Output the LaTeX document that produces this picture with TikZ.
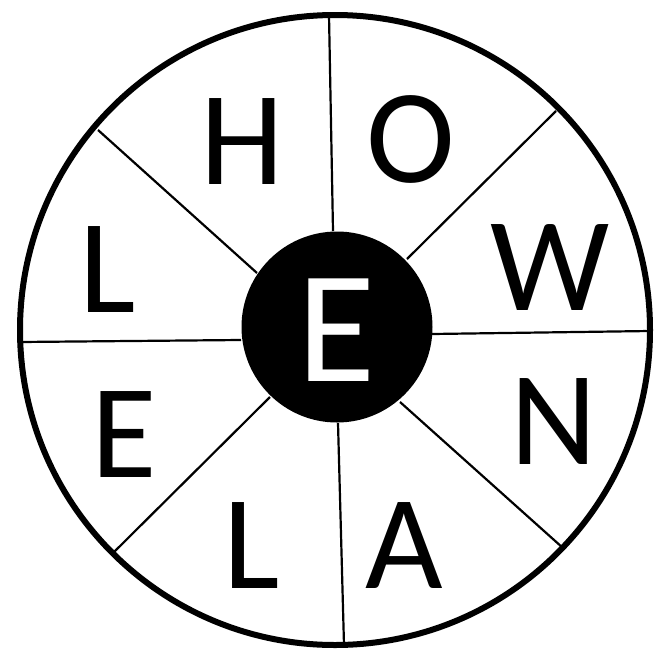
\documentclass[tikz,border=0pt]{standalone}
\usepackage{fontspec}
\setmainfont{Carlito}
\begin{document}
\begin{tikzpicture}[x=1pt,y=-1pt,
  spoke/.style={line width=2.2pt},
  letter/.style={inner sep=0pt,anchor=base,font=\fontsize{134}{134}\selectfont}]
\useasboundingbox (0,0) rectangle (656,651);
\draw[line width=6pt] (335,330) circle (315);
% spokes
\coordinate (t1) at (329,15); \coordinate (t2) at (333,231);
\coordinate (b1) at (338,423); \coordinate (b2) at (344,645);
\coordinate (l1) at (20,342); \coordinate (l2) at (241,340);
\coordinate (r1) at (432,334); \coordinate (r2) at (650,331);
\coordinate (ul1) at (98,130); \coordinate (ul2) at (257,273);
\coordinate (ur1) at (556,111); \coordinate (ur2) at (407,259);
\coordinate (ll1) at (112,554); \coordinate (ll2) at (270,397);
\coordinate (lr1) at (563,548); \coordinate (lr2) at (400,402);
\foreach \a/\b in {t1/t2,b1/b2,l1/l2,r1/r2,ul1/ul2,ur1/ur2,ll1/ll2,lr1/lr2}
  \draw[spoke] (\a) -- (\b);
\node[circle,fill=black,minimum size=191pt,inner sep=0pt] (hub) at (337,327) {};
\node[letter,text=white,font=\fontsize{160}{160}\selectfont] (ec) at (337,381) {E};
\node[letter] (h) at (242,184) {H};
\node[letter] (o) at (411,182) {O};
\node[letter] (w) at (550,310) {W};
\node[letter] (n) at (554,464) {N};
\node[letter] (a) at (404,588) {A};
\node[letter] (lb) at (252,588) {L};
\node[letter] (el) at (124,477) {E};
\node[letter] (ll) at (108,312) {L};
\end{tikzpicture}
\end{document}
